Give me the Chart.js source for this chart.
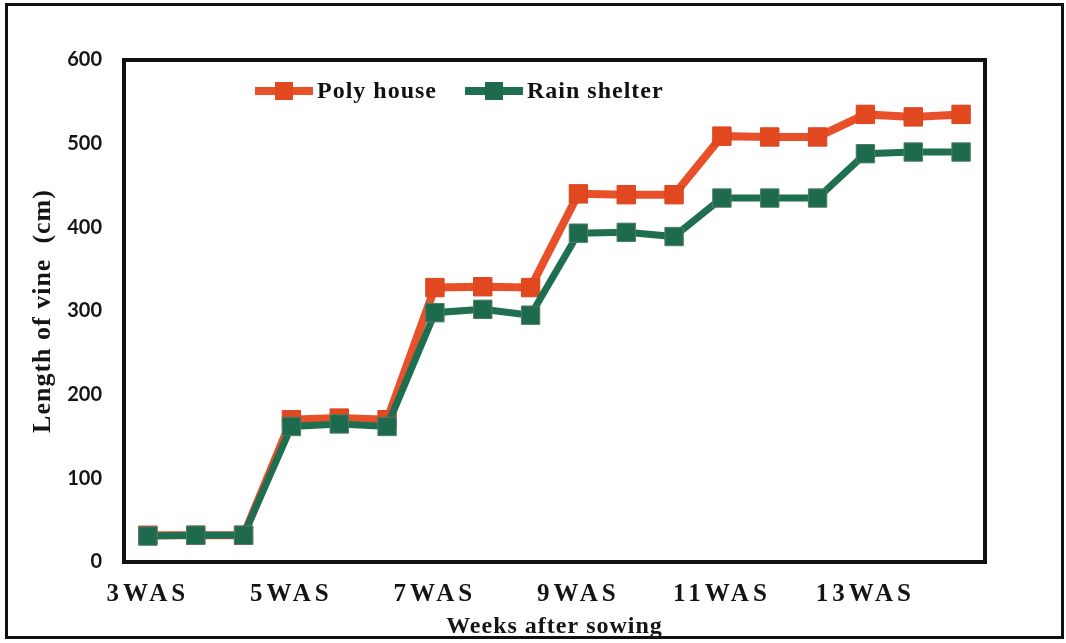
<!DOCTYPE html>
<html>
<head>
<meta charset="utf-8">
<title>Length of vine</title>
<script src="https://cdn.jsdelivr.net/npm/chart.js@4.4.1/dist/chart.umd.min.js"></script>
<style>
  html, body { margin: 0; padding: 0; background: #ffffff; }
  #wrap { width: 1066px; height: 643px; }
</style>
</head>
<body>
<div id="wrap"><canvas id="vine" width="1066" height="643"></canvas></div>
<script>
// Sampling points along the x axis (three readings per labelled week pair)
const samplePoints = ['s1', 's2', 's3', 's4', 's5', 's6', 's7', 's8', 's9',
                      's10', 's11', 's12', 's13', 's14', 's15', 's16', 's17', 's18'];
// Tick labels shown under the axis, one every third sample
const tickLabels = ['3WAS', '', '', '5WAS', '', '', '7WAS', '', '', '9WAS', '', '',
                    '11WAS', '', '', '13WAS', '', ''];
// Vine length (cm)
const polyHouse = [32, 32, 32, 170, 172, 170, 328, 329, 328, 440, 439, 439, 509, 508, 508, 535, 532, 535];
const rainShelter = [31, 32, 32, 162, 165, 162, 298, 302, 295, 393, 394, 389, 435, 435, 435, 488, 490, 490];
const yTicks = [0, 100, 200, 300, 400, 500, 600];
const seriesNames = ['Poly house', 'Rain shelter'];

const ORANGE = '#e8502a';
const ORANGE_PT = '#e2481f';
const GREEN = '#1e6e50';
const GREEN_PT = '#1d6a4d';

const SERIF = '"Liberation Serif", "Times New Roman", serif';

// Adds letter spacing to a scale's tick labels and title
function spaceText(scale, labelPx, titlePx) {
  if (scale.$spaced) return;
  scale.$spaced = true;
  const wrap = (name, px) => {
    const orig = scale[name];
    scale[name] = function (...args) {
      const c = this.ctx;
      c.save();
      c.letterSpacing = px + 'px';
      orig.apply(this, args);
      c.restore();
    };
  };
  wrap('drawLabels', labelPx);
  wrap('drawTitle', titlePx);
}

// Outer page border and the box around the plot area
const framePlugin = {
  id: 'frame',
  beforeDraw(chart) {
    const c = chart.ctx;
    c.save();
    c.fillStyle = '#ffffff';
    c.fillRect(0, 0, chart.width, chart.height);
    c.strokeStyle = '#111111';
    c.lineWidth = 3;
    c.strokeRect(6.5, 4.5, 1056, 633);
    c.restore();
  },
  beforeDatasetsDraw(chart) {
    const a = chart.chartArea;
    const c = chart.ctx;
    c.save();
    c.strokeStyle = '#111111';
    c.lineWidth = 4;
    c.strokeRect(a.left, a.top, a.right - a.left, a.bottom - a.top);
    c.restore();
  }
};

// Legend drawn inside the top of the plot area
const insideLegend = {
  id: 'insideLegend',
  afterDraw(chart) {
    const c = chart.ctx;
    const a = chart.chartArea;
    let x = a.left + 131;
    const y = a.top + 31;
    c.save();
    c.font = 'bold 24px ' + SERIF;
    c.letterSpacing = '1px';
    c.textBaseline = 'middle';
    c.textAlign = 'left';
    chart.data.datasets.forEach((ds) => {
      c.strokeStyle = ds.borderColor;
      c.lineWidth = 8;
      c.beginPath();
      c.moveTo(x, y);
      c.lineTo(x + 58, y);
      c.stroke();
      c.fillStyle = ds.pointBackgroundColor;
      c.fillRect(x + 20, y - 9, 18, 18);
      c.fillStyle = '#111111';
      c.fillText(ds.label, x + 62, y + 1);
      x += 62 + c.measureText(ds.label).width + 28;
    });
    c.restore();
  }
};

new Chart(document.getElementById('vine'), {
  type: 'line',
  data: {
    labels: samplePoints,
    datasets: [
      {
        label: seriesNames[0],
        data: polyHouse,
        borderColor: ORANGE,
        borderWidth: 8,
        pointStyle: 'rect',
        pointRadius: 13,
        pointBackgroundColor: ORANGE_PT,
        pointBorderColor: '#d8461f',
        pointBorderWidth: 1,
        tension: 0,
        order: 2
      },
      {
        label: seriesNames[1],
        data: rainShelter,
        borderColor: GREEN,
        borderWidth: 7,
        pointStyle: 'rect',
        pointRadius: 13,
        pointBackgroundColor: GREEN_PT,
        pointBorderColor: '#4f7c69',
        pointBorderWidth: 1,
        tension: 0,
        order: 1
      }
    ]
  },
  options: {
    responsive: false,
    devicePixelRatio: 1,
    animation: false,
    events: [],
    layout: { padding: { left: 0, top: 60, right: 81, bottom: 0 } },
    plugins: {
      legend: { display: false },
      tooltip: { enabled: false }
    },
    scales: {
      x: {
        type: 'category',
        offset: true,
        grid: { display: false, drawTicks: false },
        border: { display: false },
        ticks: {
          autoSkip: false,
          maxRotation: 0,
          padding: 18,
          color: '#151515',
          font: { family: SERIF, size: 25, weight: 'bold' },
          callback: (value, index) => tickLabels[index]
        },
        title: {
          display: true,
          text: 'Weeks after sowing',
          color: '#151515',
          font: { family: SERIF, size: 24, weight: 'bold' },
          padding: { top: 0, bottom: 2 }
        },
        afterFit(scale) { scale.height = 81; },
        afterUpdate(scale) { spaceText(scale, 4, 1); }
      },
      y: {
        min: 0,
        max: 600,
        grid: { display: false, drawTicks: false },
        border: { display: false },
        afterBuildTicks(scale) { scale.ticks = yTicks.map(v => ({ value: v })); },
        ticks: {
          padding: 22,
          color: '#151515',
          font: { family: 'Lato, "Open Sans", sans-serif', size: 20, weight: 'bold' }
        },
        title: {
          display: true,
          text: 'Length of vine  (cm)',
          color: '#151515',
          font: { family: SERIF, size: 26, weight: 'bold' },
          padding: { top: 28, bottom: 0 }
        },
        afterFit(scale) { scale.width = 124; },
        afterUpdate(scale) { spaceText(scale, 0, 1); }
      }
    }
  },
  plugins: [framePlugin, insideLegend]
});
</script>
</body>
</html>
